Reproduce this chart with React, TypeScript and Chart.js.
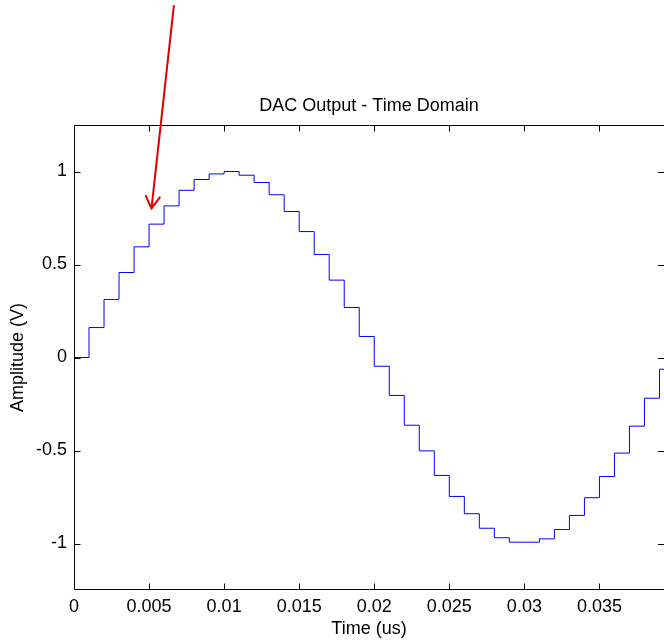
import { useEffect, useRef } from "react";
import { Chart, registerables } from "chart.js";

Chart.register(...registerables);

// Sample instants (us) and held DAC output levels (V)
const sampleTimes = [
  0, 0.001, 0.002, 0.003, 0.004, 0.005, 0.006, 0.007, 0.008, 0.009,
  0.01, 0.011, 0.012, 0.013, 0.014, 0.015, 0.016, 0.017, 0.018, 0.019,
  0.02, 0.021, 0.022, 0.023, 0.024, 0.025, 0.026, 0.027, 0.028, 0.029,
  0.03, 0.031, 0.032, 0.033, 0.034, 0.035, 0.036, 0.037, 0.038, 0.039,
  0.04,
];
const dacLevels = [
  0, 0.161, 0.312, 0.457, 0.595, 0.717, 0.815, 0.899, 0.957, 0.987,
  1.0, 0.98, 0.941, 0.875, 0.785, 0.677, 0.554, 0.416, 0.269, 0.113,
  -0.047, -0.204, -0.364, -0.502, -0.634, -0.747, -0.84, -0.918, -0.969, -0.993,
  -0.993, -0.975, -0.925, -0.849, -0.754, -0.64, -0.514, -0.369, -0.219, -0.063,
  0.094,
];

const xTickValues = [0, 0.005, 0.01, 0.015, 0.02, 0.025, 0.03, 0.035];
const yTickValues = [-1, -0.5, 0, 0.5, 1];
const xRange = [0, 0.0393];
const yRange = [-1.25, 1.25];

// Red annotation arrow, in data coordinates
const arrowTail = { x: 0.00665, y: 1.89 };
const arrowTip = { x: 0.00516, y: 0.8 };

const chartTitle = "DAC Output - Time Domain";
const xAxisTitle = "Time (us)";
const yAxisTitle = "Amplitude (V)";

const FONT = "'Liberation Sans', Arial, Helvetica, sans-serif";
const FONT_SIZE = 18;

const framePlugin = {
  id: "matlabFrame",
  afterDatasetsDraw(chart: any) {
    const { ctx, chartArea: a, scales } = chart;
    const x = scales.x;
    const y = scales.y;
    ctx.save();
    ctx.strokeStyle = "#000";
    ctx.lineWidth = 1;
    const L = Math.round(a.left) + 0.5;
    const R = Math.round(a.right) + 0.5;
    const T = Math.round(a.top) + 0.5;
    const B = Math.round(a.bottom) - 0.5;
    ctx.beginPath();
    ctx.moveTo(L, T);
    ctx.lineTo(R, T);
    ctx.moveTo(L, B);
    ctx.lineTo(R, B);
    ctx.moveTo(L, T);
    ctx.lineTo(L, B);
    ctx.moveTo(R, T);
    ctx.lineTo(R, B);
    const len = 6;
    for (const v of xTickValues) {
      const px = Math.round(x.getPixelForValue(v)) + 0.5;
      ctx.moveTo(px, B);
      ctx.lineTo(px, B - len);
      ctx.moveTo(px, T);
      ctx.lineTo(px, T + len);
    }
    for (const v of yTickValues) {
      const py = Math.round(y.getPixelForValue(v)) + 0.5;
      ctx.moveTo(L, py);
      ctx.lineTo(L + len, py);
      ctx.moveTo(a.right, py);
      ctx.lineTo(a.right - len, py);
    }
    ctx.stroke();
    ctx.restore();
  },
  afterDraw(chart: any) {
    const { ctx, scales } = chart;
    const x = scales.x;
    const y = scales.y;
    const tx = x.getPixelForValue(arrowTail.x);
    const ty = y.getPixelForValue(arrowTail.y);
    const hx = x.getPixelForValue(arrowTip.x);
    const hy = y.getPixelForValue(arrowTip.y);
    const ang = Math.atan2(ty - hy, tx - hx);
    const wing = 14;
    const spread = (30 * Math.PI) / 180;
    ctx.save();
    ctx.strokeStyle = "#e00000";
    ctx.lineWidth = 2;
    ctx.lineCap = "round";
    ctx.lineJoin = "round";
    ctx.beginPath();
    ctx.moveTo(tx, ty);
    ctx.lineTo(hx, hy);
    ctx.moveTo(hx + wing * Math.cos(ang - spread), hy + wing * Math.sin(ang - spread));
    ctx.lineTo(hx, hy);
    ctx.lineTo(hx + wing * Math.cos(ang + spread), hy + wing * Math.sin(ang + spread));
    ctx.stroke();
    ctx.restore();
  },
};

export default function App() {
  const canvasRef = useRef<HTMLCanvasElement | null>(null);

  useEffect(() => {
    document.body.style.margin = "0";
    document.body.style.overflow = "hidden";
    const canvas = canvasRef.current;
    if (!canvas) return;
    const points = sampleTimes.map((t, i) => ({ x: t, y: dacLevels[i] }));
    const chart = new Chart(canvas, {
      type: "line",
      data: {
        datasets: [
          {
            data: points,
            borderColor: "#0000ff",
            borderWidth: 1,
            pointRadius: 0,
            stepped: true,
            fill: false,
            tension: 0,
          },
        ],
      },
      options: {
        animation: false,
        responsive: false,
        devicePixelRatio: 1,
        layout: { padding: 0 },
        plugins: {
          legend: { display: false },
          tooltip: { enabled: false },
          title: {
            display: true,
            fullSize: false,
            text: chartTitle,
            color: "#000",
            font: { family: FONT, size: FONT_SIZE, weight: "normal" },
            padding: { top: 95, bottom: 8.4 },
          },
        },
        scales: {
          x: {
            type: "linear",
            min: xRange[0],
            max: xRange[1],
            afterBuildTicks: (s: any) => {
              s.ticks = xTickValues.map((v) => ({ value: v }));
            },
            afterFit: (s: any) => {
              s.height = 52;
            },
            grid: { display: false, drawTicks: false },
            border: { display: false },
            ticks: {
              color: "#000",
              padding: 6,
              maxRotation: 0,
              autoSkip: false,
              font: { family: FONT, size: FONT_SIZE },
              callback: (v: any) => String(v),
            },
            title: {
              display: true,
              text: xAxisTitle,
              color: "#000",
              font: { family: FONT, size: FONT_SIZE },
              padding: { top: 0, bottom: 2 },
            },
          },
          y: {
            type: "linear",
            min: yRange[0],
            max: yRange[1],
            afterBuildTicks: (s: any) => {
              s.ticks = yTickValues.map((v) => ({ value: v }));
            },
            afterFit: (s: any) => {
              s.width = 74;
            },
            grid: { display: false, drawTicks: false },
            border: { display: false },
            ticks: {
              color: "#000",
              padding: 7,
              autoSkip: false,
              font: { family: FONT, size: FONT_SIZE },
              callback: (v: any) => String(v),
            },
            title: {
              display: true,
              text: yAxisTitle,
              color: "#000",
              font: { family: FONT, size: FONT_SIZE },
              padding: { top: 7, bottom: 0 },
            },
          },
        },
      },
      plugins: [framePlugin],
    });
    return () => chart.destroy();
  }, []);

  return (
    <div style={{ width: 664, height: 642 }}>
      <canvas ref={canvasRef} width={664} height={642} style={{ width: 664, height: 642, display: "block" }} />
    </div>
  );
}
